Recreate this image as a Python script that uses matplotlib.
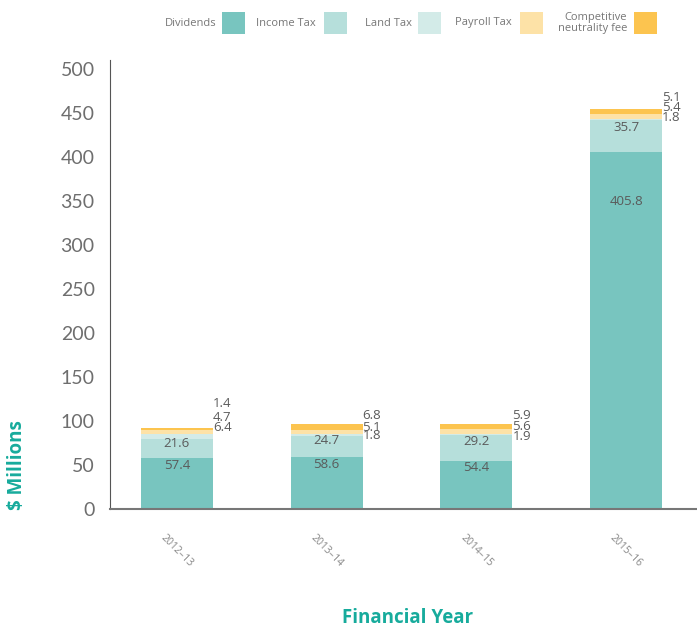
import matplotlib
matplotlib.use('Agg')
import matplotlib.pyplot as plt
from matplotlib.patches import Rectangle
import numpy as np

plt.rcParams['font.family'] = ['Open Sans', 'DejaVu Sans']

years = ['2012–13', '2013–14', '2014–15', '2015–16']
dividends = [57.4, 58.6, 54.4, 405.8]
income_tax = [21.6, 24.7, 29.2, 35.7]
land_tax = [6.4, 1.8, 1.9, 1.8]
payroll_tax = [4.7, 5.1, 5.6, 5.4]
cnf = [1.4, 6.8, 5.9, 5.1]

series_names = ['Dividends', 'Income Tax', 'Land Tax', 'Payroll Tax',
                'Competitive\nneutrality fee']
colors = ['#78c5bf', '#b6dfdb', '#d3ebe8', '#fde2a7', '#fcc44f']
teal = '#17ab9c'
grey = '#5a5a5a'

# label offsets (pixels, relative to stack top) for cnf, payroll, land
side_offsets = [(25, 11, 1), (8, -4, -12), (8, -3, -13), (12, 2, -8)]

fig = plt.figure(figsize=(6.97, 6.28), dpi=100)
ax = fig.add_axes([110/697, 119/628, 587/697, 449/628])

x = np.arange(len(years))
w = 0.48
series = [dividends, income_tax, land_tax, payroll_tax, cnf]
bottom = np.zeros(len(years))
bottoms = []
for vals, c in zip(series, colors):
    bottoms.append(bottom.copy())
    ax.bar(x, vals, w, bottom=bottom, color=c, linewidth=0)
    bottom = bottom + np.array(vals)

# labels inside the two big segments
for i in range(len(years)):
    ax.text(x[i], dividends[i] * 0.86, f'{dividends[i]:.1f}', ha='center',
            va='center', fontsize=9.5, color=grey)
    ax.text(x[i], bottoms[1][i] + income_tax[i] * 0.78, f'{income_tax[i]:.1f}',
            ha='center', va='center', fontsize=9.5, color=grey)
    top = bottom[i]
    for vals, off in zip([cnf, payroll_tax, land_tax], side_offsets[i]):
        ax.annotate(f'{vals[i]:.1f}', (x[i] + w / 2, top),
                    xytext=(0, off), textcoords='offset pixels',
                    ha='left', va='center', fontsize=9.5, color=grey)

ax.set_xlim(-0.447, 3.473)
ax.set_ylim(0, 510)
ax.set_yticks(np.arange(0, 501, 50))
ax.set_xticks(x)
ax.set_xticklabels(years, rotation=-45, ha='center', va='top',
                   fontsize=7.5, color='#888888')
ax.tick_params(axis='x', length=0, pad=17)
ax.tick_params(axis='y', length=0, pad=11, labelsize=14, labelcolor='#6e6e6e')
for t in ax.get_yticklabels():
    t.set_family(['Lato', 'DejaVu Sans'])
for s in ['top', 'right']:
    ax.spines[s].set_visible(False)
ax.spines['left'].set_color('#555555')
ax.spines['bottom'].set_color('#777777')
ax.spines['bottom'].set_linewidth(1.5)

fig.text(17/697, 1 - 465/628, '$ Millions', rotation=90, ha='center',
         va='center', fontsize=13.5, fontweight='bold', color=teal)
fig.text(408/697, 1 - 618/628, 'Financial Year', ha='center', va='center',
         fontsize=13.5, fontweight='bold', color=teal)

# legend drawn by hand: text then swatch
lax = fig.add_axes([0, 0, 1, 1])
lax.set_xlim(0, 697)
lax.set_ylim(628, 0)
lax.axis('off')
text_right = [216, 316, 412, 512, 627]
swatch_left = [222, 324, 418, 520, 634]
for name, c, tr, sl in zip(series_names, colors, text_right, swatch_left):
    lax.text(tr, 23, name, ha='right', va='center', fontsize=8,
             color='#777777', linespacing=1.1)
    lax.add_patch(Rectangle((sl, 12), 23, 22, color=c, linewidth=0))

fig.savefig('out.png', dpi=100)
